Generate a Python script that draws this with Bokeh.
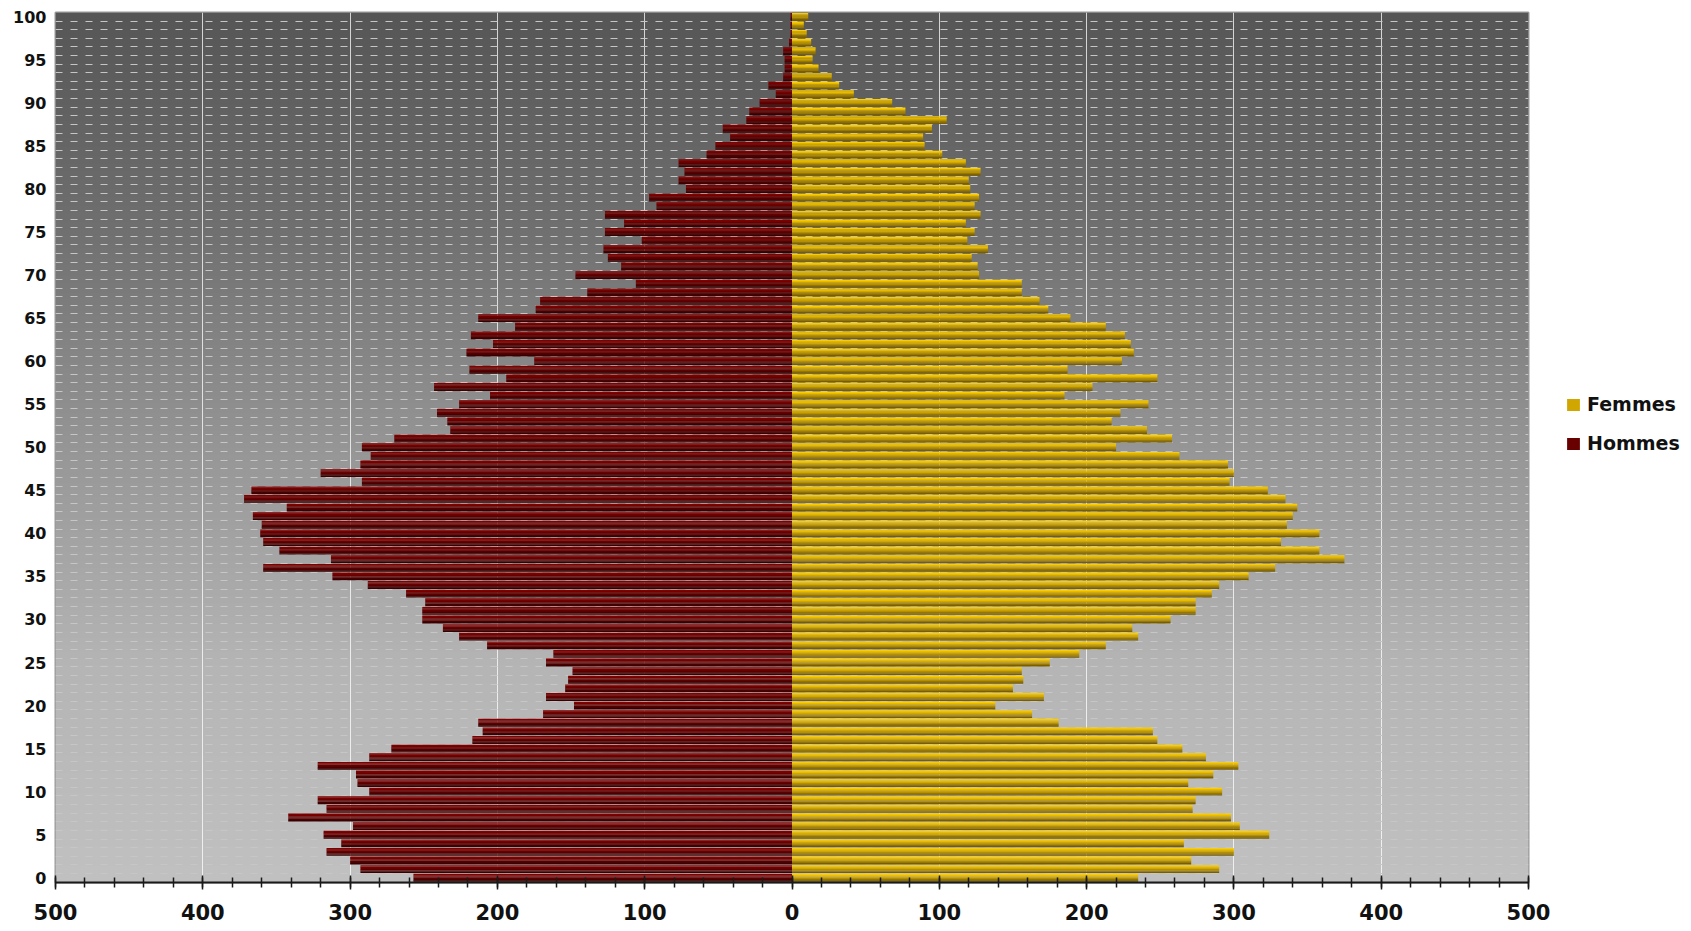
import numpy as np
from bokeh.plotting import figure
from bokeh.models import ColumnDataSource, Range1d, FixedTicker, Legend, LegendItem
from bokeh.transform import dodge
from bokeh.embed import file_html
from bokeh.resources import INLINE

# ---------------- data ----------------
ages = list(range(101))

hommes = [257, 293, 300, 316, 306, 318, 298, 342, 316, 322,
          287, 295, 296, 322, 287, 272, 217, 210, 213, 169,
          148, 167, 154, 152, 149, 167, 162, 207, 226, 237,
          251, 251, 249, 262, 288, 312, 359, 313, 348, 359,
          361, 360, 366, 343, 372, 367, 292, 320, 293, 286,
          292, 270, 232, 234, 241, 226, 205, 243, 194, 219,
          175, 221, 203, 218, 188, 213, 174, 171, 139, 106,
          147, 116, 125, 128, 102, 127, 114, 127, 92, 97,
          72, 77, 73, 77, 58, 52, 42, 47, 31, 29,
          22, 11, 16, 6, 5, 5, 6, 2, 1, 1,
          1]

femmes = [235, 290, 271, 300, 266, 324, 304, 298, 272, 274,
          292, 269, 286, 303, 281, 265, 248, 245, 181, 163,
          138, 171, 150, 157, 156, 175, 195, 213, 235, 231,
          257, 274, 274, 285, 290, 310, 328, 375, 358, 332,
          358, 336, 340, 343, 335, 323, 297, 300, 296, 263,
          220, 258, 241, 217, 223, 242, 185, 204, 248, 187,
          224, 232, 230, 226, 213, 189, 174, 168, 156, 156,
          127, 126, 122, 133, 119, 124, 118, 128, 124, 127,
          121, 120, 128, 118, 102, 90, 89, 95, 105, 77,
          68, 42, 32, 27, 18, 14, 16, 13, 10, 8,
          11]

series_labels = ["Femmes", "Hommes"]
x_ticks = [-500, -400, -300, -200, -100, 0, 100, 200, 300, 400, 500]
x_tick_labels = ["500", "400", "300", "200", "100", "0", "100", "200", "300", "400", "500"]
x_minor_ticks = list(range(-500, 501, 20))
y_ticks = list(range(0, 101, 5))

# ---------------- figure ----------------
src = ColumnDataSource(dict(age=ages, femmes=femmes, hommes_neg=[-v for v in hommes]))

p = figure(frame_width=1473, frame_height=870,
           x_range=Range1d(-500, 500), y_range=Range1d(-0.55, 100.5),
           output_backend="svg", toolbar_location=None,
           min_border_left=55, min_border_right=160,
           min_border_top=12, min_border_bottom=47)
p.background_fill_color = "#9a9a9a"
p.border_fill_color = "white"
p.outline_line_color = "#9a9a9a"
p.outline_line_width = 2

# vertical gray gradient background (dark at top, light at bottom)
n = 500
t = (np.arange(n) + 0.5) / n
g = np.interp(t, [0.0, 0.25, 0.5, 0.75, 1.0], [193, 181, 150, 112, 86]).astype(np.uint8)
img = np.empty((n, 1), dtype=np.uint32)
view = img.view(dtype=np.uint8).reshape((n, 1, 4))
view[:, 0, 0] = g
view[:, 0, 1] = g
view[:, 0, 2] = g
view[:, 0, 3] = 255
y0 = p.y_range.start
p.image_rgba(image=[img], x=p.x_range.start, y=y0,
             dw=p.x_range.end - p.x_range.start, dh=p.y_range.end - y0, level="image")

# grids
p.xgrid.ticker = FixedTicker(ticks=[v for v in x_ticks if v not in (-500, 0, 500)])
p.xgrid.grid_line_color = "white"
p.xgrid.grid_line_alpha = 0.75
p.xgrid.grid_line_width = 1
p.ygrid.ticker = FixedTicker(ticks=[a - 0.5 for a in ages])
p.ygrid.grid_line_color = "#c6c6c6"
p.ygrid.grid_line_dash = "7 8"
p.ygrid.grid_line_width = 1

# bars with a vertical shading made of stacked bands
bar_h = 0.9
fem_cols = ["#fbcd00", "#e8bb00", "#d0a600", "#b48f00", "#977700", "#785e00"]
hom_cols = ["#800000", "#740000", "#680000", "#5a0000", "#4a0000", "#380000"]
nb = len(fem_cols)
band_h = bar_h / nb
rf_leg = rh_leg = None
for i in range(nb):
    off = bar_h / 2 - band_h * (i + 0.5)
    rf = p.hbar(y=dodge("age", off), left=0, right="femmes", height=band_h * 1.08,
                source=src, fill_color=fem_cols[i], line_color=None)
    rh = p.hbar(y=dodge("age", off), left="hommes_neg", right=0, height=band_h * 1.08,
                source=src, fill_color=hom_cols[i], line_color=None)
    if i == 2:
        rf_leg, rh_leg = rf, rh

# axes
p.xaxis.ticker = FixedTicker(ticks=x_ticks, minor_ticks=x_minor_ticks)
p.xaxis.major_label_overrides = dict(zip(x_ticks, x_tick_labels))
p.xaxis.axis_line_color = "#1a1a1a"
p.xaxis.axis_line_width = 2
p.xaxis.major_tick_line_color = "#1a1a1a"
p.xaxis.minor_tick_line_color = "#1a1a1a"
p.xaxis.major_tick_line_width = 1.5
p.xaxis.minor_tick_line_width = 1.5
p.xaxis.major_tick_in = 7
p.xaxis.major_tick_out = 7
p.xaxis.minor_tick_in = 5
p.xaxis.minor_tick_out = 5
p.xaxis.major_label_standoff = 14
p.xaxis.major_label_text_font = "DejaVu Sans"
p.xaxis.major_label_text_font_style = "bold"
p.xaxis.major_label_text_font_size = "21px"
p.xaxis.major_label_text_color = "#111111"

p.yaxis.ticker = FixedTicker(ticks=y_ticks, minor_ticks=[])
p.yaxis.axis_line_color = None
p.yaxis.major_tick_in = 0
p.yaxis.major_tick_out = 0
p.yaxis.minor_tick_line_color = None
p.yaxis.major_label_standoff = 9
p.yaxis.major_label_text_font = "DejaVu Sans"
p.yaxis.major_label_text_font_style = "bold"
p.yaxis.major_label_text_font_size = "16px"
p.yaxis.major_label_text_color = "#111111"

# legend to the right of the plot
legend = Legend(items=[LegendItem(label=series_labels[0], renderers=[rf_leg]),
                       LegendItem(label=series_labels[1], renderers=[rh_leg])],
                location=(37, 428))
legend.glyph_width = 16
legend.glyph_height = 15
legend.label_height = 22
legend.label_standoff = 6
legend.spacing = 17
legend.padding = 0
legend.margin = 0
legend.border_line_color = None
legend.background_fill_alpha = 0
legend.label_text_font = "DejaVu Sans"
legend.label_text_font_style = "bold"
legend.label_text_font_size = "19px"
legend.label_text_color = "#111111"
p.add_layout(legend, "right")

open("out.html", "w").write(file_html(p, INLINE))
